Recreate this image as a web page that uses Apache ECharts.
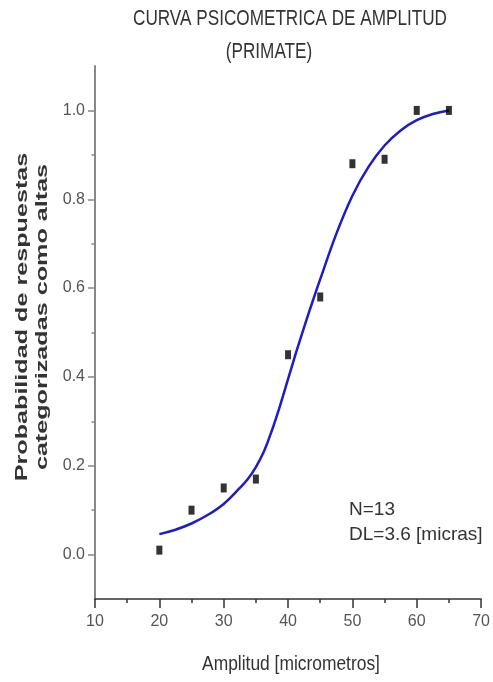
<!DOCTYPE html>
<html>
<head>
<meta charset="utf-8">
<script src="https://cdn.jsdelivr.net/npm/echarts@6/dist/echarts.min.js"></script>
<style>
html,body{margin:0;padding:0;background:#fff;}
#chart{width:493px;height:682px;}
</style>
</head>
<body>
<div id="chart"></div>
<script>
// ---- data ----
const ampX = [20, 25, 30, 35, 40, 45, 50, 55, 60, 65];
const probY = [0.01, 0.10, 0.15, 0.17, 0.45, 0.58, 0.88, 0.89, 1.00, 1.00];
const fitX = [20, 22.5, 25, 27.5, 30, 32.5, 33.75, 35, 36.25, 37.5, 38.75, 40, 41.25, 42.5, 43.75, 45, 47.5, 50, 52.5, 55, 57.5, 60, 62.5, 65];
const fitY = [0.046, 0.056, 0.070, 0.089, 0.114, 0.150, 0.170, 0.197, 0.232, 0.280, 0.335, 0.395, 0.455, 0.512, 0.567, 0.620, 0.722, 0.808, 0.873, 0.921, 0.955, 0.978, 0.992, 1.000];
const yMajorTicks = [0.0, 0.2, 0.4, 0.6, 0.8, 1.0];
const yMinorTicks = [0.1, 0.3, 0.5, 0.7, 0.9];
const titleLine1 = 'CURVA PSICOMETRICA DE AMPLITUD';
const titleLine2 = '(PRIMATE)';
const xName = 'Amplitud [micrometros]';
const yName = 'Probabilidad de respuestas\ncategorizadas como altas';
const note = 'N=13\nDL=3.6 [micras]';

const sans = '"Liberation Sans", Arial, sans-serif';

const chart = echarts.init(document.getElementById('chart'), null, {renderer: 'canvas'});
chart.setOption({
  animation: false,
  backgroundColor: '#ffffff',
  grid: {left: 95, right: 9, top: 66, bottom: 83, containLabel: false},
  xAxis: {
    type: 'value', min: 10, max: 70, interval: 10,
    axisLine: {onZero: false, lineStyle: {color: '#333', width: 1.5}},
    axisTick: {length: 9, lineStyle: {color: '#333', width: 1.5}},
    minorTick: {show: true, splitNumber: 2, length: 4, lineStyle: {color: '#333', width: 1.5}},
    splitLine: {show: false},
    axisLabel: {margin: 15, color: '#555', fontSize: 16, fontFamily: sans}
  },
  yAxis: [{
    type: 'value', min: -0.1, max: 1.1,
    axisLine: {onZero: false, lineStyle: {color: '#888', width: 2}},
    axisTick: {customValues: yMajorTicks, length: 7, lineStyle: {color: '#888', width: 1.5}},
    axisLabel: {customValues: yMajorTicks, margin: 10, color: '#555', fontSize: 16, fontFamily: sans,
      formatter: v => v.toFixed(1)},
    splitLine: {show: false}
  }, {
    type: 'value', min: -0.1, max: 1.1, position: 'left',
    axisLine: {show: false},
    axisTick: {customValues: yMinorTicks, length: 3.5, lineStyle: {color: '#888', width: 1.5}},
    axisLabel: {show: false},
    splitLine: {show: false}
  }],
  series: [{
    type: 'line',
    data: fitX.map((x, i) => [x, fitY[i]]),
    smooth: 0.4,
    showSymbol: false,
    lineStyle: {color: '#1c1cc8', width: 2.5},
    z: 2
  }, {
    type: 'scatter',
    data: ampX.map((x, i) => [x, probY[i]]),
    symbol: 'rect',
    symbolSize: [6, 9],
    itemStyle: {color: '#000'},
    z: 3
  }],
  graphic: [
    {type: 'text', x: 290, y: 19, scaleX: 0.78, style: {text: titleLine1, font: '22px ' + sans, fill: '#333', textAlign: 'center', textVerticalAlign: 'middle'}},
    {type: 'text', x: 269, y: 52, scaleX: 0.78, style: {text: titleLine2, font: '22px ' + sans, fill: '#333', textAlign: 'center', textVerticalAlign: 'middle'}},
    {type: 'text', x: 291, y: 664, scaleX: 0.87, style: {text: xName, font: '20px ' + sans, fill: '#333', textAlign: 'center', textVerticalAlign: 'middle'}},
    {type: 'text', x: 32, y: 317, rotation: Math.PI / 2, scaleX: 1.48, style: {text: yName, font: 'bold 17px "Liberation Sans", Arial, sans-serif', fill: '#333', textAlign: 'center', textVerticalAlign: 'middle', lineHeight: 20}},
    {type: 'text', x: 349, y: 522, style: {text: note, font: '19px ' + sans, fill: '#333', textAlign: 'left', textVerticalAlign: 'middle', lineHeight: 25}}
  ]
});
</script>
</body>
</html>
